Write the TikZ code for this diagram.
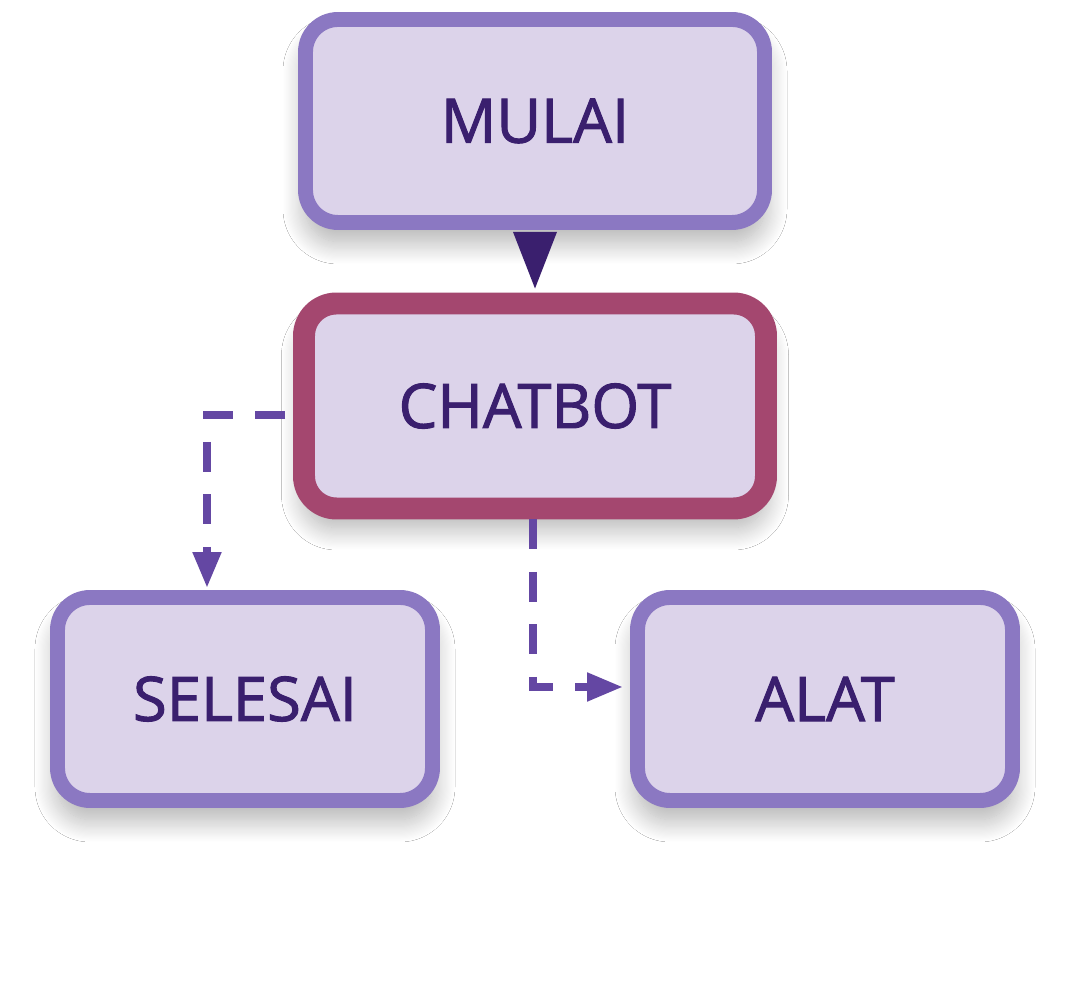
\documentclass[tikz,border=0pt]{standalone}
\usepackage{fontspec}
\setmainfont{Open Sans}
\newfontfamily\boxfont{Open Sans}[FakeBold=1.6]
\usepackage{xcolor}
\usepackage{tikz}
\usetikzlibrary{arrows.meta, positioning, calc, shadows.blur}

\definecolor{boxfill}{HTML}{DCD3EA}
\definecolor{boxline}{HTML}{8B78C2}
\definecolor{botline}{HTML}{A4476F}
\definecolor{inkdark}{HTML}{3A1F6E}
\definecolor{dashink}{HTML}{6447A3}

\begin{document}
\begin{tikzpicture}[
  stagebox/.style={draw=boxline, line width=8.5pt, fill=boxfill, rounded corners=0.65cm,
    text=inkdark, font=\boxfont\fontsize{35}{40}\selectfont,
    blur shadow={shadow xshift=0pt, shadow yshift=-0.38cm, shadow blur radius=0.45cm,
      shadow blur steps=20, shadow opacity=32}},
  flowdash/.style={dashink, line width=4.5pt, dash pattern=on 0.6cm off 0.45cm,
    -{Triangle[length=0.72cm, width=0.54cm]}}
]
\useasboundingbox (0,0) rectangle (21.44,19.84);
\fill[white] (0,0) rectangle (21.44,19.84);

\node[stagebox, minimum width=9.18cm, minimum height=4.06cm] (mulai) at (10.70,17.42) {MULAI};
\node[stagebox, draw=botline, line width=12.5pt, minimum width=9.24cm, minimum height=4.1cm] (chatbot) at (10.70,11.72) {CHATBOT};
\node[stagebox, minimum width=7.5cm, minimum height=4.06cm] (selesai) at (4.90,5.86) {SELESAI};
\node[stagebox, minimum width=7.5cm, minimum height=4.06cm] (alat) at (16.50,5.86) {ALAT};

% mulai -> chatbot
\fill[inkdark] ($(mulai.south)+(-0.44,-0.04)$) -- ($(mulai.south)+(0.44,-0.04)$)
  -- ($(chatbot.north)+(0,0.08)$) -- cycle;

% chatbot -> selesai / alat
\draw[flowdash] ([xshift=-0.16cm, yshift=-0.18cm]chatbot.west) -| ([xshift=-0.76cm, yshift=0.04cm]selesai.north);
\draw[flowdash] ([xshift=-0.04cm]chatbot.south) |- ([xshift=-0.14cm, yshift=0.24cm]alat.west);
\end{tikzpicture}
\end{document}
